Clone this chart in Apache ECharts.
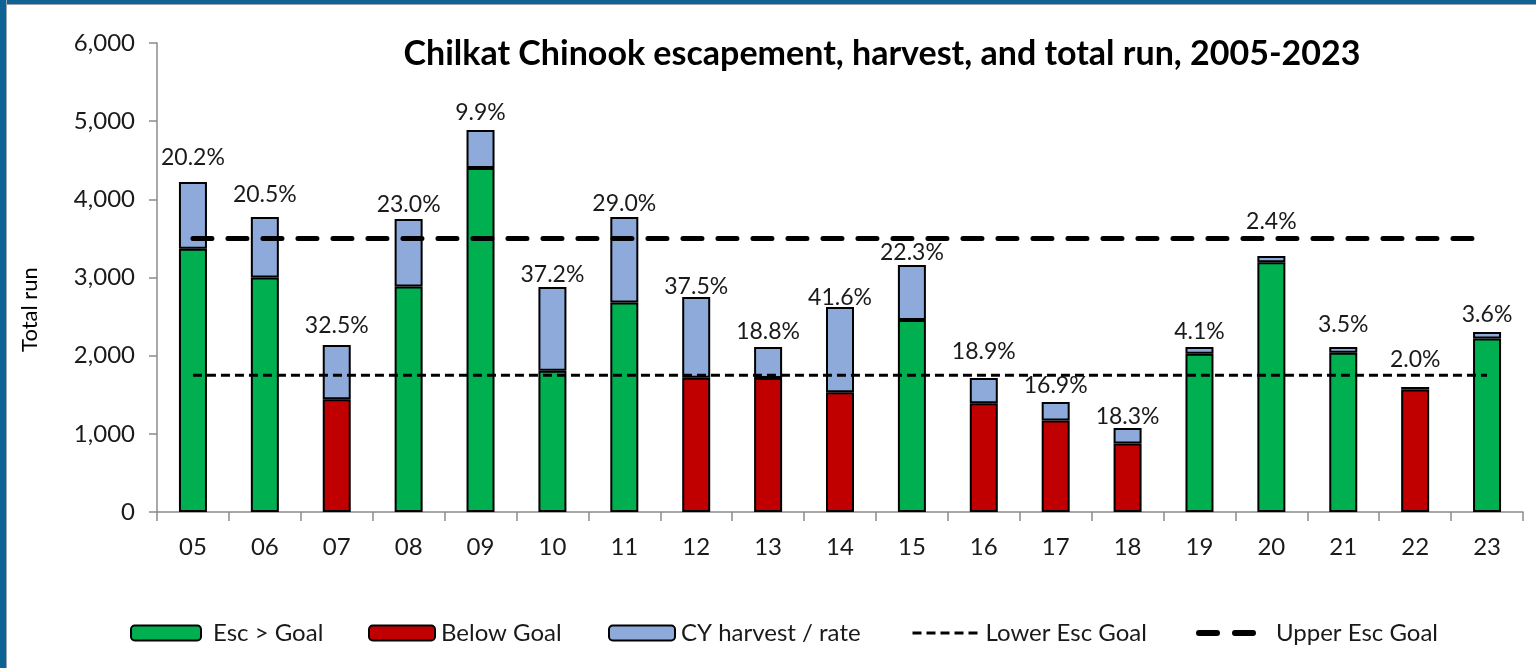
<!DOCTYPE html>
<html>
<head>
<meta charset="utf-8">
<script src="https://cdn.jsdelivr.net/npm/echarts@6/dist/echarts.min.js"></script>
<style>
  html, body { margin: 0; padding: 0; background: #ffffff; }
  #frame { position: absolute; left: 0; top: 0; width: 1536px; height: 668px; background: #ffffff; }
  #bandTop { position: absolute; left: 0; top: 0; width: 1536px; height: 4px; background: #0d6494; border-bottom: 1px solid #9aa6ae; }
  #bandLeft { position: absolute; left: 0; top: 0; width: 6px; height: 668px; background: #0d6494; border-right: 1px solid #9aa6ae; }
  #chart { position: absolute; left: 0; top: 0; width: 1536px; height: 668px; }
</style>
</head>
<body>
<div id="frame"></div>
<div id="chart"></div>
<div id="bandTop"></div>
<div id="bandLeft"></div>
<script>
// ---- data ----
const years = ['05','06','07','08','09','10','11','12','13','14','15','16','17','18','19','20','21','22','23'];
const escapement = [3368, 3000, 1442, 2886, 4402, 1807, 2679, 1719, 1713, 1531, 2455, 1390, 1169, 877, 2023, 3195, 2036, 1567, 2219];
const harvest    = [853, 773, 694, 862, 484, 1071, 1094, 1031, 397, 1091, 704, 324, 238, 197, 87, 79, 74, 32, 83];
const harvestRate = ['20.2%','20.5%','32.5%','23.0%','9.9%','37.2%','29.0%','37.5%','18.8%','41.6%','22.3%','18.9%','16.9%','18.3%','4.1%','2.4%','3.5%','2.0%','3.6%'];
const lowerEscGoal = 1750;
const upperEscGoal = 3500;
const yTicks = [0, 1000, 2000, 3000, 4000, 5000, 6000];

// label nudges (px upward) to mimic the hand-placed labels of the original
const labelLift = [11, 9, 6, 1, 4, -1, 0, -3, 2, -4, -1, 13, 3, -2, 2, 21, 9, 14, 4];

// ---- build series data ----
const aboveGoal = escapement.map(v => v >= lowerEscGoal ? v : null);
const belowGoal = escapement.map(v => v < lowerEscGoal ? v : null);
const harvestData = harvest.map((v, i) => ({
  value: v,
  label: { offset: [0, -labelLift[i]] }
}));
const lowerLine = years.map(() => lowerEscGoal);
const upperLine = years.map(() => upperEscGoal);

const FONT = 'Lato, "Open Sans", sans-serif';
const chart = echarts.init(document.getElementById('chart'), null, { renderer: 'canvas' });

const barBase = {
  type: 'bar',
  stack: 'run',
  barWidth: 28
};

function legendAt(name, left, iw, ih, textPad, extra) {
  return Object.assign({
    data: [name],
    left: left,
    top: 621,
    itemWidth: iw,
    itemHeight: ih,
    itemGap: 0,
    padding: 0,
    textStyle: { fontFamily: FONT, fontSize: 24, color: '#1a1a1a', padding: [0, 0, 0, textPad] },
    selectedMode: false
  }, extra || {});
}

chart.setOption({
  animation: false,
  backgroundColor: 'transparent',
  title: {
    text: 'Chilkat Chinook escapement, harvest, and total run, 2005-2023',
    left: 877,
    top: 32,
    textAlign: 'center',
    textStyle: { fontFamily: FONT, fontSize: 34, fontWeight: 'bold', color: '#000000' }
  },
  legend: [
    legendAt('Esc > Goal', 130, 70, 15, 7),
    legendAt('Below Goal', 368, 66, 15, 1),
    legendAt('CY harvest / rate', 608, 66, 15, 1),
    legendAt('Lower Esc Goal', 911, 70, 15, -2, {
      itemStyle: { opacity: 0 },
      lineStyle: { color: '#000000', width: 3, type: [9, 5] }
    }),
    legendAt('Upper Esc Goal', 1196, 56, 15, 16, {
      itemStyle: { opacity: 0 },
      lineStyle: { color: '#000000', width: 6, type: [18, 18], cap: 'round' }
    })
  ],
  grid: { left: 157, right: 13, top: 43, bottom: 156, containLabel: false },
  xAxis: {
    type: 'category',
    data: years,
    axisLine: { lineStyle: { color: '#8c8c8c', width: 1.5 } },
    axisTick: { show: true, length: 9, lineStyle: { color: '#8c8c8c', width: 1.5 } },
    axisLabel: { fontFamily: FONT, fontSize: 24, color: '#1a1a1a', margin: 23 }
  },
  yAxis: {
    type: 'value',
    min: 0,
    max: 6000,
    interval: 1000,
    name: 'Total run',
    nameLocation: 'middle',
    nameGap: 116,
    nameRotate: 90,
    nameTextStyle: { fontFamily: FONT, fontSize: 22, color: '#000000', padding: [0, 0, 0, -64] },
    axisLine: { show: true, lineStyle: { color: '#8c8c8c', width: 1.5 } },
    axisTick: { show: true, length: 8, lineStyle: { color: '#8c8c8c', width: 1.5 } },
    splitLine: { show: false },
    axisLabel: {
      fontFamily: FONT, fontSize: 24, color: '#1a1a1a', margin: 22,
      formatter: v => yTicks.includes(v) ? v.toLocaleString('en-US') : ''
    }
  },
  series: [
    Object.assign({}, barBase, {
      name: 'Esc > Goal',
      data: aboveGoal,
      itemStyle: { color: '#00b050', borderColor: '#000000', borderWidth: 2 }
    }),
    Object.assign({}, barBase, {
      name: 'Below Goal',
      data: belowGoal,
      itemStyle: { color: '#c00000', borderColor: '#000000', borderWidth: 2 }
    }),
    Object.assign({}, barBase, {
      name: 'CY harvest / rate',
      data: harvestData,
      itemStyle: { color: '#8eaadb', borderColor: '#000000', borderWidth: 2 },
      label: {
        show: true,
        position: 'top',
        distance: 2,
        fontFamily: FONT,
        fontSize: 23,
        color: '#1a1a1a',
        formatter: p => harvestRate[p.dataIndex]
      }
    }),
    {
      name: 'Lower Esc Goal',
      type: 'line',
      data: lowerLine,
      symbol: 'none',
      z: 5,
      itemStyle: { color: '#000000' },
      lineStyle: { color: '#000000', width: 3, type: [9, 5] }
    },
    {
      name: 'Upper Esc Goal',
      type: 'line',
      data: upperLine,
      symbol: 'none',
      z: 5,
      itemStyle: { color: '#000000' },
      lineStyle: { color: '#000000', width: 5, type: [19, 16], cap: 'round' }
    }
  ]
});
</script>
</body>
</html>
